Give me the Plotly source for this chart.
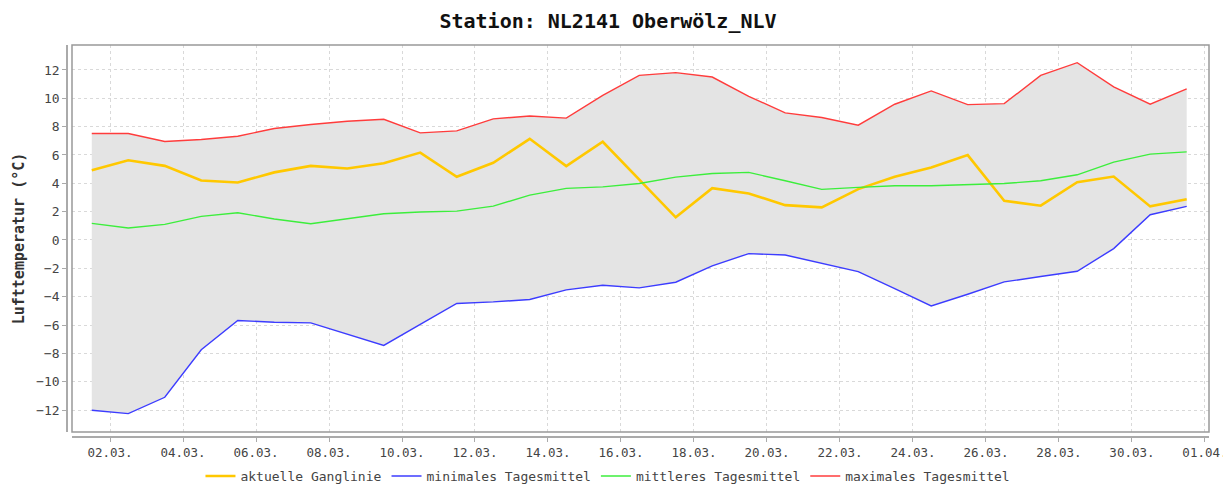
import plotly.graph_objects as go

dates = [
    "2024-03-01 12:00", "2024-03-02 12:00", "2024-03-03 12:00", "2024-03-04 12:00",
    "2024-03-05 12:00", "2024-03-06 12:00", "2024-03-07 12:00", "2024-03-08 12:00",
    "2024-03-09 12:00", "2024-03-10 12:00", "2024-03-11 12:00", "2024-03-12 12:00",
    "2024-03-13 12:00", "2024-03-14 12:00", "2024-03-15 12:00", "2024-03-16 12:00",
    "2024-03-17 12:00", "2024-03-18 12:00", "2024-03-19 12:00", "2024-03-20 12:00",
    "2024-03-21 12:00", "2024-03-22 12:00", "2024-03-23 12:00", "2024-03-24 12:00",
    "2024-03-25 12:00", "2024-03-26 12:00", "2024-03-27 12:00", "2024-03-28 12:00",
    "2024-03-29 12:00", "2024-03-30 12:00", "2024-03-31 12:00",
]

aktuell = [4.93, 5.63, 5.23, 4.20, 4.06, 4.77, 5.23, 5.05, 5.42, 6.17,
           4.46, 5.45, 7.14, 5.21, 6.93, 4.27, 1.60, 3.66, 3.28, 2.46,
           2.30, 3.59, 4.46, 5.12, 5.99, 2.77, 2.42, 4.08, 4.48, 2.37, 2.87]

minimal = [-12.02, -12.25, -11.10, -7.75, -5.68, -5.80, -5.85, -6.62, -7.44, -5.96,
           -4.48, -4.37, -4.20, -3.52, -3.19, -3.38, -2.98, -1.83, -0.96, -1.06,
           -1.64, -2.23, -3.43, -4.65, -3.83, -2.96, -2.58, -2.21, -0.61, 1.78, 2.37]

mittel = [1.17, 0.85, 1.10, 1.67, 1.92, 1.48, 1.15, 1.48, 1.85, 1.97,
          2.04, 2.39, 3.17, 3.64, 3.75, 3.99, 4.44, 4.69, 4.77, 4.18,
          3.57, 3.71, 3.83, 3.83, 3.90, 3.99, 4.18, 4.60, 5.49, 6.06, 6.22]

maximal = [7.51, 7.51, 6.95, 7.09, 7.32, 7.87, 8.15, 8.38, 8.52, 7.56,
           7.70, 8.55, 8.75, 8.60, 10.2, 11.62, 11.81, 11.5, 10.14, 8.97,
           8.64, 8.10, 9.58, 10.52, 9.55, 9.62, 11.62, 12.51, 10.80, 9.58, 10.66]

y_ticks = [-12, -10, -8, -6, -4, -2, 0, 2, 4, 6, 8, 10, 12]

FONT = "DejaVu Sans Mono"
fig = go.Figure()

# grey band between minimum and maximum
fig.add_trace(go.Scatter(x=dates, y=minimal, mode="lines", line=dict(width=0),
                         showlegend=False, hoverinfo="skip"))
fig.add_trace(go.Scatter(x=dates, y=maximal, mode="lines", line=dict(width=0),
                         fill="tonexty", fillcolor="#e4e4e4",
                         showlegend=False, hoverinfo="skip"))

fig.add_trace(go.Scatter(x=dates, y=aktuell, mode="lines", name="aktuelle Ganglinie",
                         line=dict(color="#ffc800", width=2.6)))
fig.add_trace(go.Scatter(x=dates, y=minimal, mode="lines", name="minimales Tagesmittel",
                         line=dict(color="#3c3cff", width=1.4)))
fig.add_trace(go.Scatter(x=dates, y=mittel, mode="lines", name="mittleres Tagesmittel",
                         line=dict(color="#3cee3c", width=1.4)))
fig.add_trace(go.Scatter(x=dates, y=maximal, mode="lines", name="maximales Tagesmittel",
                         line=dict(color="#ff3c3c", width=1.4)))

# page body has an 8px margin, so the figure is drawn 8px smaller
W, H = 1223, 478
ml, mr, mt, mb = 59, 22, 37, 49
pw = W - ml - mr
ph = H - mt - mb

fig.update_layout(
    width=W, height=H,
    margin=dict(l=ml, r=mr, t=mt, b=mb, autoexpand=False),
    paper_bgcolor="white", plot_bgcolor="white",
    font=dict(family=FONT, color="#444444", size=12),
    title=dict(text="<b>Station: NL2141 Oberwölz_NLV</b>", x=0.4906, xref="container",
               xanchor="center", y=0.973, yref="container", yanchor="middle",
               font=dict(family=FONT, size=20, color="#111111")),
    showlegend=True,
    legend=dict(orientation="h", x=0.4737, xanchor="center", traceorder="normal",
                y=-0.0995, yanchor="middle", font=dict(family=FONT, size=13, color="#444444"),
                itemwidth=30, bgcolor="rgba(0,0,0,0)"),
    xaxis=dict(
        type="date", domain=[5 / pw, 1], anchor="free", position=0,
        range=["2024-02-29 23:00", "2024-04-01 02:40"],
        tick0="2024-03-02", dtick=2 * 86400000, tickformat="%d.%m.", tickangle=0,
        showgrid=True, gridcolor="#d9d9d9", griddash="3px,3px", gridwidth=1,
        showline=True, linecolor="#aaaaaa", linewidth=1.5,
        ticks="outside", ticklen=4, tickcolor="#aaaaaa",
        tickfont=dict(family=FONT, size=12.5, color="#444444"),
        zeroline=False,
    ),
    yaxis=dict(
        domain=[5 / ph, 1], anchor="free", position=0,
        range=[-13.55, 13.76], tickvals=y_ticks,
        showgrid=True, gridcolor="#d9d9d9", griddash="3px,3px", gridwidth=1,
        showline=True, linecolor="#aaaaaa", linewidth=1.5,
        ticks="outside", ticklen=4, tickcolor="#aaaaaa",
        tickfont=dict(family=FONT, size=13, color="#444444"),
        zeroline=False,
        title=dict(text="<b>Lufttemperatur (°C)</b>", standoff=7,
                   font=dict(family=FONT, size=15, color="#333333")),
    ),
)

fig.add_shape(type="rect", xref="x domain", yref="y domain", x0=0, x1=1, y0=0, y1=1,
              line=dict(color="#999999", width=1.5), layer="above")

fig.write_html("out.html")
